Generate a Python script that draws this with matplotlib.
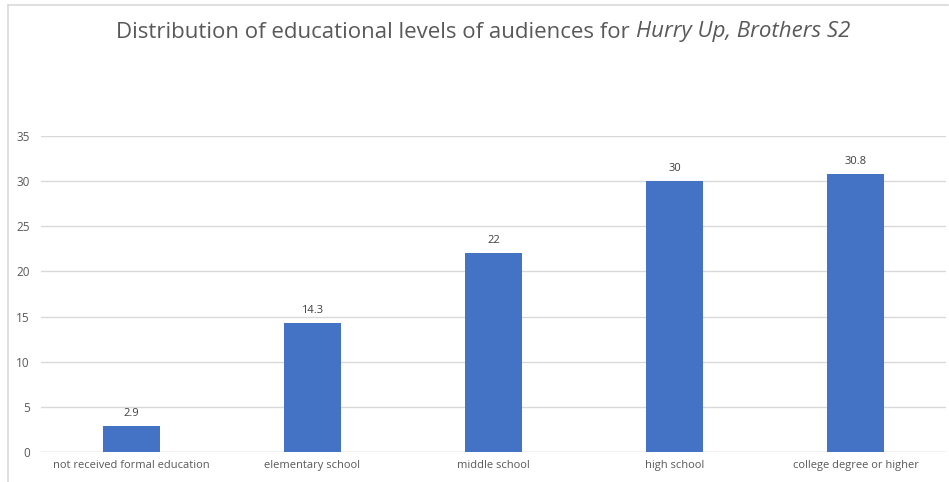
import matplotlib
matplotlib.use("Agg")
import matplotlib.pyplot as plt
from matplotlib.lines import Line2D

categories = ["not received formal education", "elementary school", "middle school",
              "high school", "college degree or higher"]
values = [2.9, 14.3, 22, 30, 30.8]
value_labels = ["2.9", "14.3", "22", "30", "30.8"]
yticks = [0, 5, 10, 15, 20, 25, 30, 35]

title_plain = "Distribution of educational levels of audiences for "
title_italic = "Hurry Up, Brothers S2"

W, H = 949, 482
fig = plt.figure(figsize=(W / 100, H / 100), dpi=100)
plt.rcParams['font.family'] = ['Open Sans', 'DejaVu Sans']
txt = "#595959"

ax = fig.add_axes([41 / W, 1 - 452 / H, (946 - 41) / W, (452 - 136) / H])
x = list(range(len(categories)))
ax.bar(x, values, width=0.315, color="#4472C4", zorder=3)
ax.set_xlim(-0.5, len(categories) - 0.5)
ax.set_ylim(0, 35)
ax.set_yticks(yticks)
ax.set_yticklabels([str(t) for t in yticks], fontsize=8.5, color=txt)
ax.set_xticks(x)
ax.set_xticklabels(categories, fontsize=8, color=txt)
ax.tick_params(length=0, pad=6)
ax.tick_params(axis="y", pad=8)
ax.grid(axis="y", color="#D9D9D9", linewidth=1, zorder=0)
for s in ax.spines.values():
    s.set_visible(False)
ax.axhline(0, color="#D9D9D9", linewidth=1, zorder=2)
for xi, v, lab in zip(x, values, value_labels):
    ax.annotate(lab, (xi, v), xytext=(0, 5), textcoords="offset points",
                ha="center", va="bottom", fontsize=8, color="#404040")

# frame lines (top and left)
fig.add_artist(Line2D([8 / W, 948 / W], [1 - 5 / H, 1 - 5 / H], color="#D9D9D9", lw=1.2))
fig.add_artist(Line2D([8 / W, 8 / W], [1 - 5 / H, 0], color="#D9D9D9", lw=1.2))

# title with italic part
fs = 16
t1 = fig.text(0, 1 - 32 / H, title_plain, fontsize=fs, color=txt, va="center", ha="left")
t2 = fig.text(0, 1 - 32 / H, title_italic, fontsize=fs, color=txt, va="center", ha="left",
              style="italic")
fig.canvas.draw()
r = fig.canvas.get_renderer()
w1 = t1.get_window_extent(r).width
w2 = t2.get_window_extent(r).width
start = 483 - (w1 + w2) / 2
t1.set_x(start / W)
t2.set_x((start + w1) / W)

fig.savefig("out.png", dpi=100)
